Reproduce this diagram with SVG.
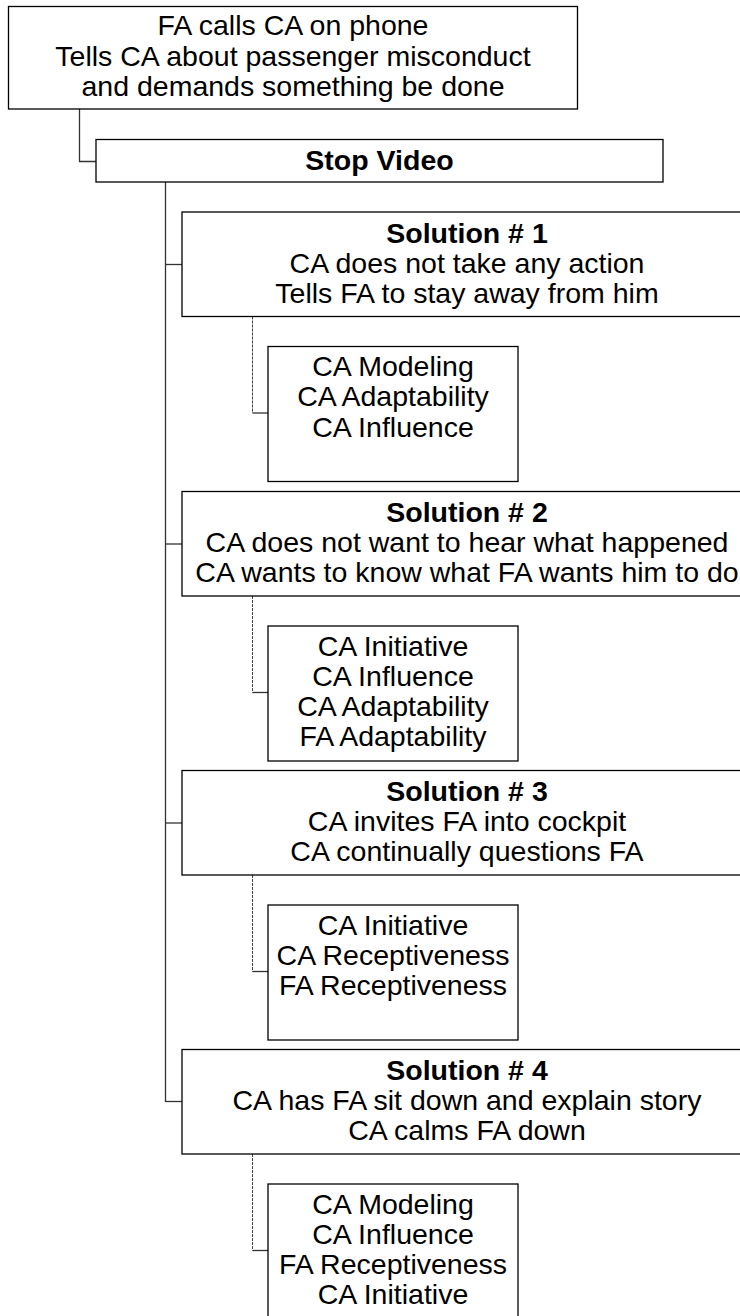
<svg xmlns="http://www.w3.org/2000/svg" width="740" height="1316" viewBox="0 0 740 1316">
<style>
.box{fill:#fff;stroke:#000;stroke-width:1.3}
.t{font-family:"Liberation Sans",Arial,sans-serif;font-size:28.5px;fill:#000;text-anchor:middle}
.b{font-weight:bold}
.con{fill:none;stroke:#333;stroke-width:1.3}
.dash{fill:none;stroke:#444;stroke-width:1;stroke-dasharray:3 1}
</style>
<rect width="740" height="1316" fill="#fff"/>
<g id="connectors">
<polyline class="con" points="79.5,109 79.5,161.5 96,161.5"/>
<line class="con" x1="165.5" y1="182" x2="165.5" y2="1102"/>
<line class="con" x1="165.5" y1="264.5" x2="182" y2="264.5"/>
<line class="con" x1="165.5" y1="544" x2="182" y2="544"/>
<line class="con" x1="165.5" y1="823" x2="182" y2="823"/>
<line class="con" x1="165.5" y1="1101.5" x2="182" y2="1101.5"/>
<polyline class="dash" points="252.5,316.5 252.5,413"/>
<line class="con" x1="252.5" y1="413" x2="268" y2="413"/>
<polyline class="dash" points="252.5,596 252.5,692.5"/>
<line class="con" x1="252.5" y1="692.5" x2="268" y2="692.5"/>
<polyline class="dash" points="252.5,875 252.5,971.5"/>
<line class="con" x1="252.5" y1="971.5" x2="268" y2="971.5"/>
<polyline class="dash" points="252.5,1154 252.5,1250.5"/>
<line class="con" x1="252.5" y1="1250.5" x2="268" y2="1250.5"/>
</g>
<g id="root">
<rect class="box" x="8.5" y="6.5" width="569" height="102.5"/>
<text class="t" x="293" y="35">FA calls CA on phone</text>
<text class="t" x="293" y="65.5">Tells CA about passenger misconduct</text>
<text class="t" x="293" y="96">and demands something be done</text>
</g>
<g id="stopvideo">
<rect class="box" x="96" y="139.5" width="567" height="42.5"/>
<text class="t b" x="379.5" y="170">Stop Video</text>
</g>
<g id="solution1">
<rect class="box" x="182" y="212" width="570" height="104.5"/>
<text class="t b" x="467" y="242.5">Solution # 1</text>
<text class="t" x="467" y="272.5">CA does not take any action</text>
<text class="t" x="467" y="302.5">Tells FA to stay away from him</text>
</g>
<g id="attr1">
<rect class="box" x="268" y="346.5" width="250" height="135"/>
<text class="t" x="393" y="376">CA Modeling</text>
<text class="t" x="393" y="406.3">CA Adaptability</text>
<text class="t" x="393" y="436.6">CA Influence</text>
</g>
<g id="solution2">
<rect class="box" x="182" y="491.5" width="570" height="104.5"/>
<text class="t b" x="467" y="522">Solution # 2</text>
<text class="t" x="467" y="552">CA does not want to hear what happened</text>
<text class="t" x="467" y="582">CA wants to know what FA wants him to do</text>
</g>
<g id="attr2">
<rect class="box" x="268" y="626" width="250" height="135"/>
<text class="t" x="393" y="655.5">CA Initiative</text>
<text class="t" x="393" y="685.8">CA Influence</text>
<text class="t" x="393" y="716.1">CA Adaptability</text>
<text class="t" x="393" y="746.4">FA Adaptability</text>
</g>
<g id="solution3">
<rect class="box" x="182" y="770.5" width="570" height="104.5"/>
<text class="t b" x="467" y="801">Solution # 3</text>
<text class="t" x="467" y="831">CA invites FA into cockpit</text>
<text class="t" x="467" y="861">CA continually questions FA</text>
</g>
<g id="attr3">
<rect class="box" x="268" y="905" width="250" height="135"/>
<text class="t" x="393" y="934.5">CA Initiative</text>
<text class="t" x="393" y="964.8">CA Receptiveness</text>
<text class="t" x="393" y="995.1">FA Receptiveness</text>
</g>
<g id="solution4">
<rect class="box" x="182" y="1049.5" width="570" height="104.5"/>
<text class="t b" x="467" y="1080">Solution # 4</text>
<text class="t" x="467" y="1110">CA has FA sit down and explain story</text>
<text class="t" x="467" y="1140">CA calms FA down</text>
</g>
<g id="attr4">
<rect class="box" x="268" y="1184" width="250" height="135"/>
<text class="t" x="393" y="1213.5">CA Modeling</text>
<text class="t" x="393" y="1243.8">CA Influence</text>
<text class="t" x="393" y="1274.1">FA Receptiveness</text>
<text class="t" x="393" y="1304.4">CA Initiative</text>
</g>
</svg>
